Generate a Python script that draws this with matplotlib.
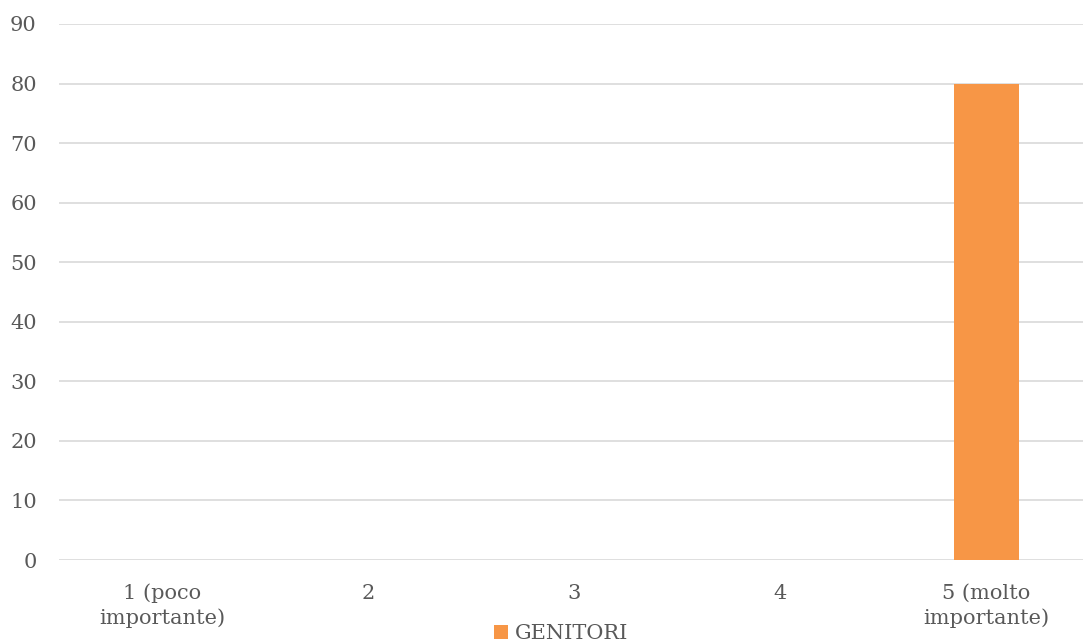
import matplotlib.pyplot as plt
import numpy as np

plt.rcParams['font.family'] = ['DejaVu Serif']

# data
categories = ['1 (poco\nimportante)', '2', '3', '4', '5 (molto\nimportante)']
genitori = [0, 0, 0, 0, 80]
yticks = [0, 10, 20, 30, 40, 50, 60, 70, 80, 90]

fig = plt.figure(figsize=(10.83, 6.42), dpi=100)
ax = fig.add_axes([0.0545, 0.1277, 0.9455, 0.835])

x = np.arange(len(categories))
ax.bar(x, genitori, width=0.316, color='#F79646', label='GENITORI', zorder=3)

ax.set_xlim(-0.5, 4.47)
ax.set_ylim(0, 90)
ax.set_yticks(yticks)
ax.set_xticks(x)
ax.set_xticklabels(categories, linespacing=1.35)
ax.grid(axis='y', color='#D9D9D9', linewidth=1.2, zorder=0)
for s in ax.spines.values():
    s.set_visible(False)
ax.tick_params(length=0, labelsize=15, labelcolor='#595959')
ax.tick_params(axis='y', pad=16)
ax.tick_params(axis='x', pad=17)

ax.legend(loc='lower center', bbox_to_anchor=(0.49, -0.19), frameon=False,
          fontsize=15, labelcolor='#595959', handlelength=0.7, handleheight=0.7,
          handletextpad=0.3)

fig.savefig('out.png', dpi=100)
